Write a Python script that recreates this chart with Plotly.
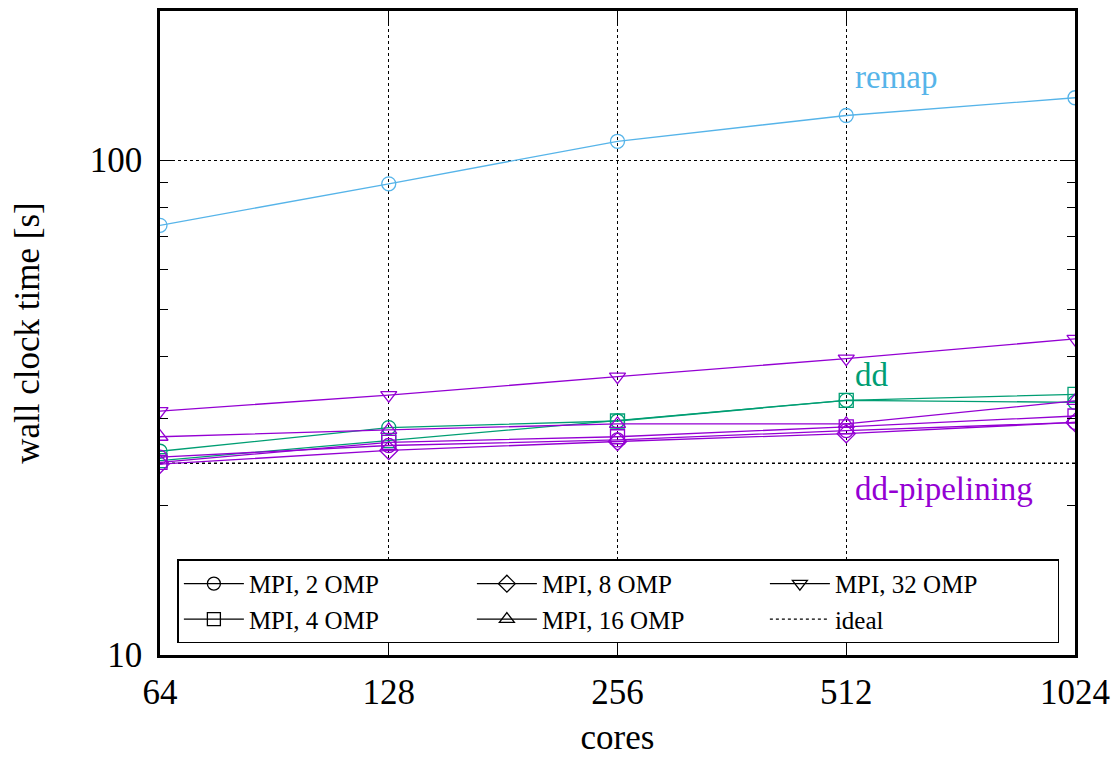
import math
import plotly.graph_objects as go

cores = [64, 128, 256, 512, 1024]

remap_2omp = [73.8, 89.5, 109.1, 123.0, 133.6]

dd_2omp = [25.8, 28.8, 29.7, 32.7, 32.4]
dd_4omp = [24.7, 27.1, 29.7, 32.7, 33.6]

pipe_2omp = [25.1, 26.5, 27.2, 28.4, 29.5]
pipe_4omp = [24.5, 26.9, 27.6, 28.9, 30.4]
pipe_8omp = [24.3, 25.9, 27.0, 28.0, 29.5]
pipe_16omp = [27.6, 28.5, 29.3, 29.3, 32.6]
pipe_32omp = [31.1, 33.5, 36.5, 39.7, 43.5]

ideal = [24.4, 24.4, 24.4, 24.4, 24.4]

legend_labels = ["MPI, 2 OMP", "MPI, 8 OMP", "MPI, 32 OMP", "MPI, 4 OMP", "MPI, 16 OMP", "ideal"]
legend_symbols = ["circle-open", "diamond-open", "triangle-down-open", "square-open", "triangle-up-open", None]

group_labels = ["remap", "dd", "dd-pipelining"]
group_label_y = [147, 36.7, 21.6]

C_REMAP = "#56b4e9"
C_DD = "#009e73"
C_PIPE = "#9400d3"
FONT = "Liberation Serif"

fig = go.Figure()


def add(vals, color, symbol):
    fig.add_trace(go.Scatter(
        x=cores, y=vals, mode="lines+markers", showlegend=False,
        line=dict(color=color, width=1.3),
        marker=dict(symbol=symbol, size=14, color=color, line=dict(width=1.3, color=color)),
    ))


# ideal line
fig.add_trace(go.Scatter(x=cores, y=ideal, mode="lines", showlegend=False,
                         line=dict(color="black", width=1.3, dash="dot")))

add(remap_2omp, C_REMAP, "circle-open")
add(dd_2omp, C_DD, "circle-open")
add(dd_4omp, C_DD, "square-open")
add(pipe_2omp, C_PIPE, "circle-open")
add(pipe_4omp, C_PIPE, "square-open")
add(pipe_8omp, C_PIPE, "diamond-open")
add(pipe_16omp, C_PIPE, "triangle-up-open")
add(pipe_32omp, C_PIPE, "triangle-down-open")

# legend entries
for lab, sym in zip(legend_labels, legend_symbols):
    if sym is None:
        fig.add_trace(go.Scatter(x=[None], y=[None], mode="lines", name=lab,
                                 line=dict(color="black", width=1.3, dash="dot")))
    else:
        fig.add_trace(go.Scatter(x=[None], y=[None], mode="lines+markers", name=lab,
                                 line=dict(color="black", width=1.3),
                                 marker=dict(symbol=sym, size=13, color="black",
                                             line=dict(width=1.3, color="black"))))

for lab, yv, col in zip(group_labels, group_label_y, [C_REMAP, C_DD, C_PIPE]):
    fig.add_annotation(x=math.log10(512 * 1.02), y=math.log10(yv), text=lab,
                       showarrow=False, xanchor="left", yanchor="middle",
                       font=dict(family=FONT, size=33, color=col))

axis_common = dict(
    showline=True, linecolor="black", linewidth=2.5, mirror="ticks",
    ticks="inside", tickcolor="black", tickwidth=1.3, ticklen=14,
    showgrid=True, gridcolor="black", griddash="dot", gridwidth=1,
    zeroline=False,
    tickfont=dict(family=FONT, size=35, color="black"),
    title_font=dict(family=FONT, size=35, color="black"),
)

fig.update_xaxes(type="log", range=[math.log10(64), math.log10(1024)],
                 tickmode="array", tickvals=cores, ticktext=[str(c) for c in cores],
                 ticklabelstandoff=4,
                 title_text="cores", title_standoff=14, **axis_common)
fig.update_yaxes(type="log", range=[1, math.log10(200)],
                 tickmode="array", tickvals=[10, 100], ticktext=["10", "100"],
                 ticklabelstandoff=8,
                 title_text="wall clock time [s]", title_standoff=40,
                 minor=dict(tickmode="array", tickvals=[20, 30, 40, 50, 60, 70, 80, 90, 200],
                            ticks="inside", ticklen=8, tickcolor="black", tickwidth=1.3,
                            showgrid=False),
                 **axis_common)

fig.update_layout(
    width=1112, height=749,
    margin=dict(l=152, r=45, t=0, b=102),
    plot_bgcolor="white", paper_bgcolor="white",
    font=dict(family=FONT, size=26, color="black"),
    legend=dict(orientation="h", x=0.019, y=0.018, xanchor="left", yanchor="bottom",
                bordercolor="black", borderwidth=1.5, bgcolor="white",
                entrywidth=218, itemwidth=60, traceorder="normal",
                font=dict(family=FONT, size=25, color="black"),
                tracegroupgap=0),
)

fig.write_html("out.html")
